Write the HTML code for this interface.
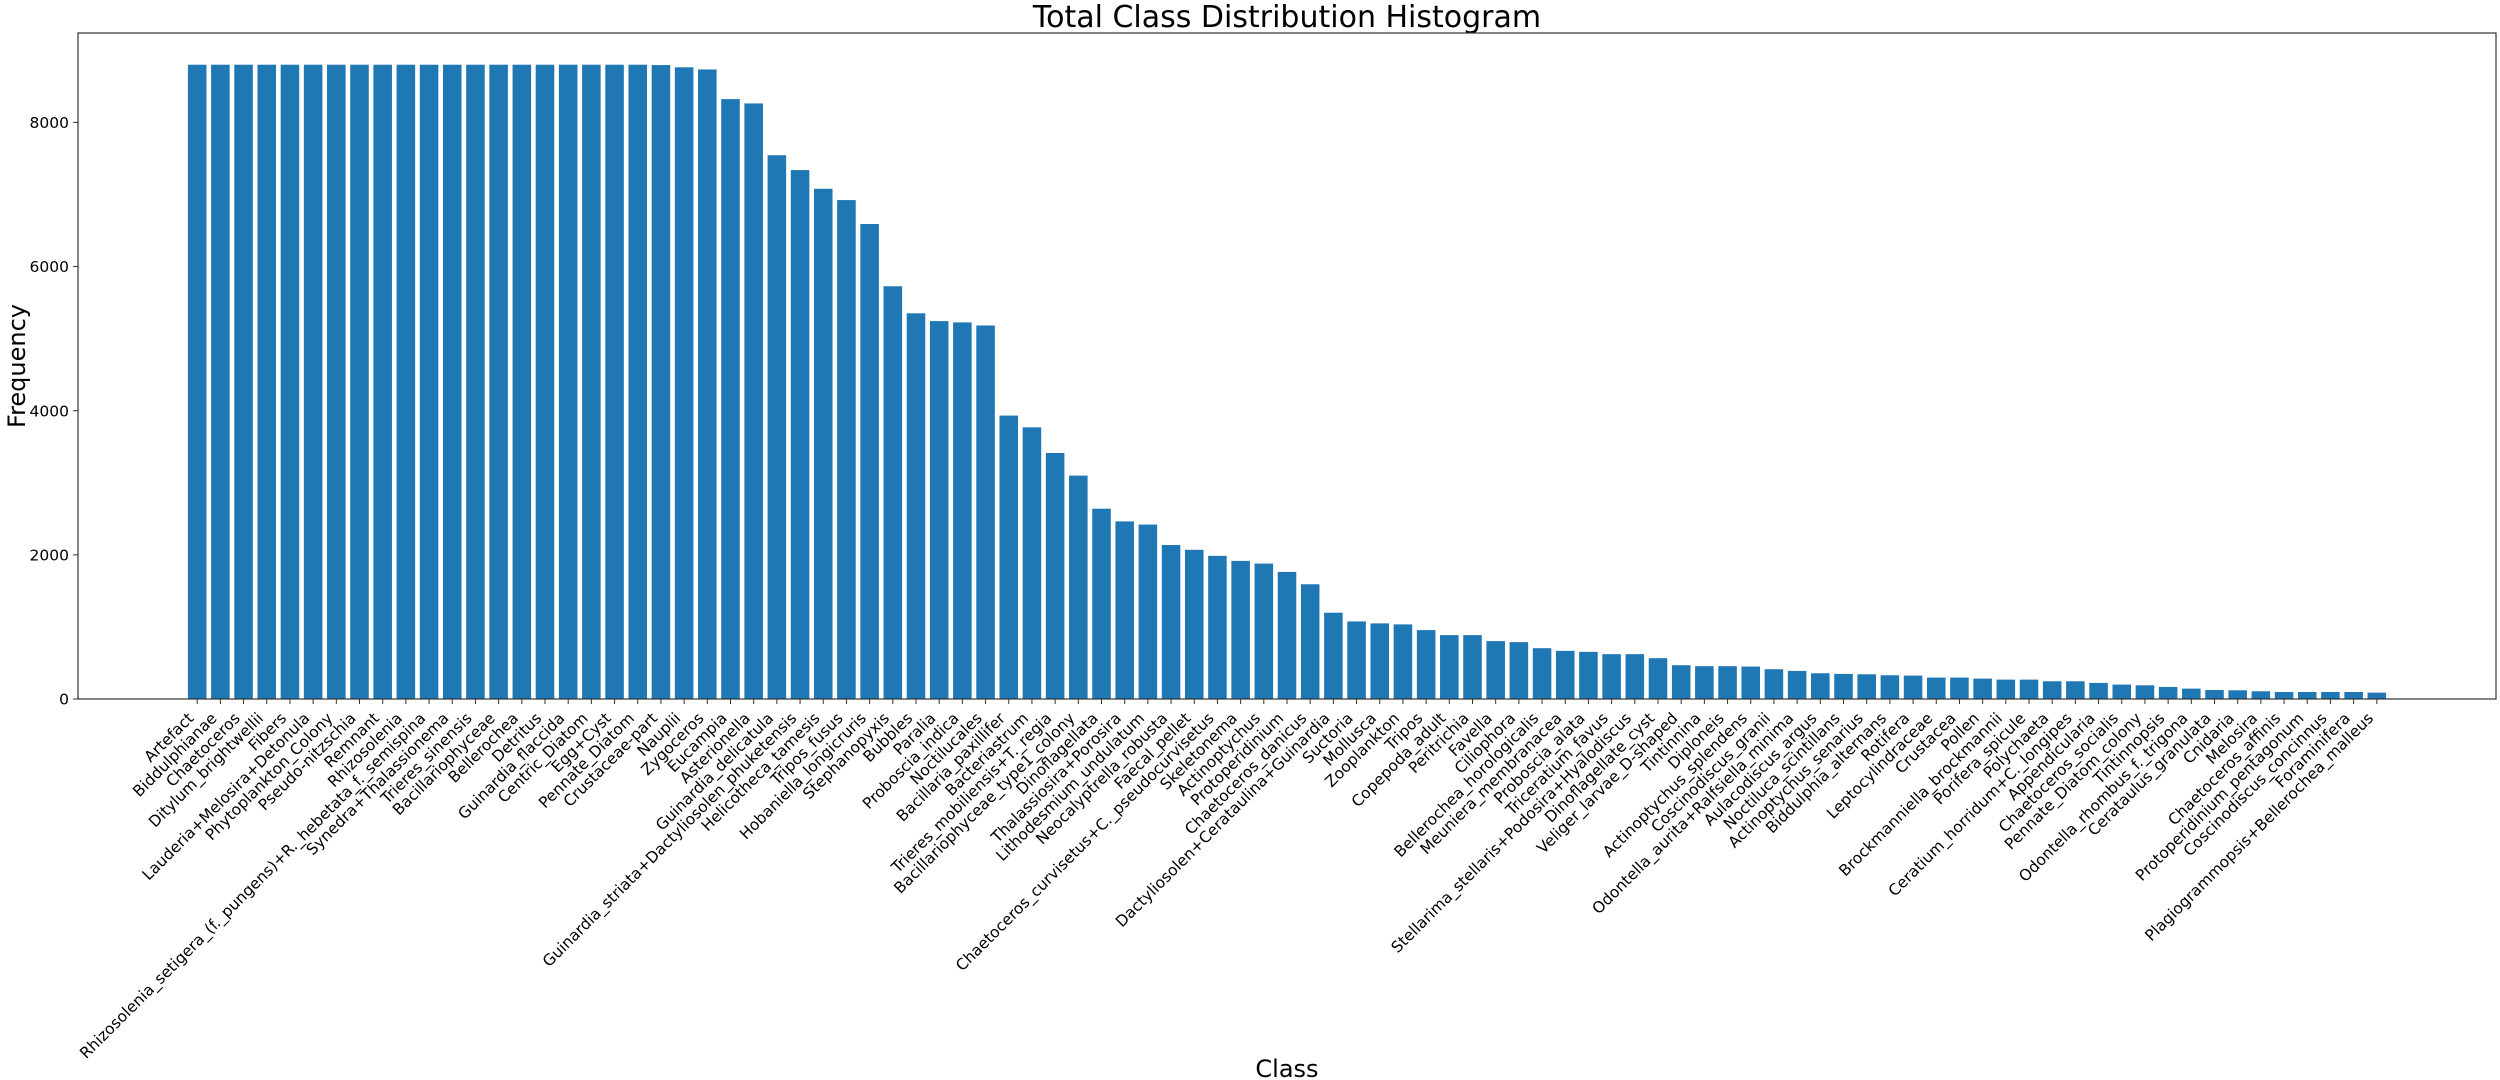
<!DOCTYPE html>
<html>
<head>
<meta charset="utf-8">
<style>
  html, body { margin: 0; padding: 0; background: #ffffff; }
  svg { display: block; font-family: "DejaVu Sans", "Liberation Sans", sans-serif; }
</style>
</head>
<body>
<svg id="chart" xmlns="http://www.w3.org/2000/svg" width="2500" height="1080" viewBox="0 0 2500 1080">
  <rect x="0" y="0" width="2500" height="1080" fill="#ffffff"/>
  <text x="1287" y="27" text-anchor="middle" font-size="30" fill="#000">Total Class Distribution Histogram</text>
  <g id="bars"></g>
  <g id="xaxis"></g>
  <g id="yaxis"></g>
  <rect x="78" y="33" width="2418" height="666" fill="none" stroke="#333" stroke-width="1.2"/>
  <text x="1287" y="1077" text-anchor="middle" font-size="24" fill="#000">Class</text>
  <text transform="translate(25,366) rotate(-90)" text-anchor="middle" font-size="24" fill="#000">Frequency</text>
</svg>
<script>
const categories = ["Artefact","Biddulphianae","Chaetoceros","Ditylum_brightwellii","Fibers","Lauderia+Melosira+Detonula","Phytoplankton_Colony","Pseudo-nitzschia","Remnant","Rhizosolenia","Rhizosolenia_setigera_(f._pungens)+R._hebetata_f._semispina","Synedra+Thalassionema","Trieres_sinensis","Bacillariophyceae","Bellerochea","Detritus","Guinardia_flaccida","Centric_Diatom","Egg+Cyst","Pennate_Diatom","Crustaceae-part","Nauplii","Zygoceros","Eucampia","Asterionella","Guinardia_delicatula","Guinardia_striata+Dactyliosolen_phuketensis","Helicotheca_tamesis","Tripos_fusus","Hobaniella_longicruris","Stephanopyxis","Bubbles","Paralia","Proboscia_indica","Noctilucales","Bacillaria_paxillifer","Bacteriastrum","Trieres_mobiliensis+T._regia","Bacillariophyceae_type1_colony","Dinoflagellata","Thalassiosira+Porosira","Lithodesmium_undulatum","Neocalyptrella_robusta","Faecal_pellet","Chaetoceros_curvisetus+C._pseudocurvisetus","Skeletonema","Actinoptychus","Protoperidinium","Chaetoceros_danicus","Dactyliosolen+Cerataulina+Guinardia","Suctoria","Mollusca","Zooplankton","Tripos","Copepoda_adult","Peritrichia","Favella","Ciliophora","Bellerochea_horologicalis","Meuniera_membranacea","Proboscia_alata","Triceratium_favus","Stellarima_stellaris+Podosira+Hyalodiscus","Dinoflagellate_cyst","Veliger_larvae_D-shaped","Tintinnina","Diploneis","Actinoptychus_splendens","Coscinodiscus_granii","Odontella_aurita+Ralfsiella_minima","Aulacodiscus_argus","Noctiluca_scintillans","Actinoptychus_senarius","Biddulphia_alternans","Rotifera","Leptocylindraceae","Crustacea","Pollen","Brockmanniella_brockmannii","Porifera_spicule","Polychaeta","Ceratium_horridum+C._longipes","Appendicularia","Chaetoceros_socialis","Pennate_Diatom_colony","Tintinnopsis","Odontella_rhombus_f._trigona","Cerataulus_granulata","Cnidaria","Melosira","Chaetoceros_affinis","Protoperidinium_pentagonum","Coscinodiscus_concinnus","Foraminifera","Plagiogrammopsis+Bellerochea_malleus"];
const counts = [8800,8800,8800,8800,8800,8800,8800,8800,8800,8800,8800,8800,8800,8800,8800,8800,8800,8800,8800,8800,8795,8764,8734,8323,8263,7544,7338,7079,6922,6590,5726,5351,5243,5225,5182,3932,3769,3413,3099,2640,2464,2420,2136,2070,1986,1916,1879,1763,1592,1197,1076,1049,1035,956,886,886,803,789,705,668,654,622,622,566,469,455,455,450,413,390,357,348,343,329,325,297,297,283,269,269,246,246,223,200,190,167,144,125,121,107,97,97,97,97,88];
const yTicks = [0,2000,4000,6000,8000];

const NS = "http://www.w3.org/2000/svg";
const plotLeft = 78, plotRight = 2496, plotTop = 33, plotBottom = 699;
const n = categories.length;
const xMin = -0.4 - 0.05 * (n - 1 + 0.8), xMax = (n - 1) + 0.4 + 0.05 * (n - 1 + 0.8);
const yMax = Math.max(...counts) * 1.05;
function xScale(v) { return plotLeft + (v - xMin) / (xMax - xMin) * (plotRight - plotLeft); }
function yScale(v) { return plotBottom - v / yMax * (plotBottom - plotTop); }
const bw = 0.8 * (xScale(1) - xScale(0));
const tickFont = 15.5;

const barsG = document.getElementById('bars');
const xG = document.getElementById('xaxis');
const yG = document.getElementById('yaxis');

counts.forEach((v, i) => {
  const r = document.createElementNS(NS, 'rect');
  r.setAttribute('x', xScale(i) - bw / 2);
  r.setAttribute('y', yScale(v));
  r.setAttribute('width', bw);
  r.setAttribute('height', plotBottom - yScale(v));
  r.setAttribute('fill', '#1f77b4');
  
  
  barsG.appendChild(r);
});

categories.forEach((c, i) => {
  const x = xScale(i);
  const t = document.createElementNS(NS, 'line');
  t.setAttribute('x1', x); t.setAttribute('x2', x);
  t.setAttribute('y1', plotBottom); t.setAttribute('y2', plotBottom + 5);
  t.setAttribute('stroke', '#333'); t.setAttribute('stroke-width', '1');
  
  
  xG.appendChild(t);
  const lab = document.createElementNS(NS, 'text');
  const ax = x - 0.707 * 0.236 * tickFont, ay = 709 + 0.707 * 0.93 * tickFont;
  lab.setAttribute('transform', 'translate(' + ax + ',' + ay + ') rotate(-45)');
  lab.setAttribute('text-anchor', 'end');
  lab.setAttribute('font-size', tickFont);
  lab.setAttribute('fill', '#000');
  lab.textContent = c;
  
  
  xG.appendChild(lab);
});

yTicks.forEach(v => {
  const y = yScale(v);
  const t = document.createElementNS(NS, 'line');
  t.setAttribute('x1', plotLeft - 5); t.setAttribute('x2', plotLeft);
  t.setAttribute('y1', y); t.setAttribute('y2', y);
  t.setAttribute('stroke', '#333'); t.setAttribute('stroke-width', '1');
  
  
  yG.appendChild(t);
  const lab = document.createElementNS(NS, 'text');
  lab.setAttribute('x', plotLeft - 9);
  lab.setAttribute('y', y + 5.6);
  lab.setAttribute('text-anchor', 'end');
  lab.setAttribute('font-size', tickFont);
  lab.setAttribute('fill', '#000');
  lab.textContent = String(v);
  
  
  yG.appendChild(lab);
});
</script>
</body>
</html>
